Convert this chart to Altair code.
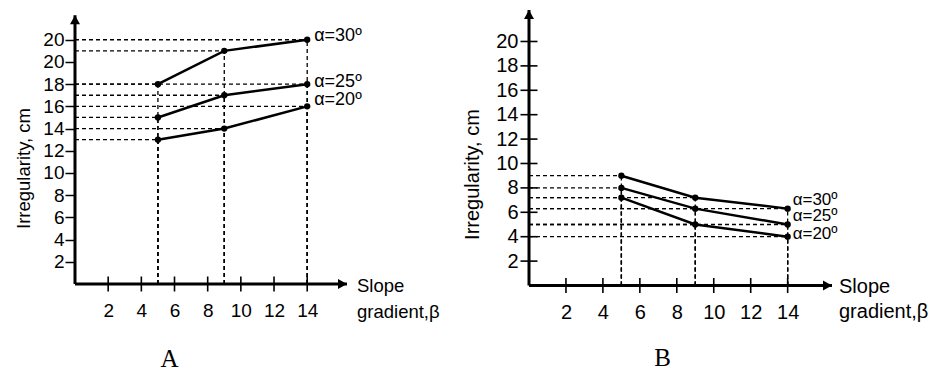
import altair as alt
import pandas as pd

# ---------------- data ----------------
slope_x = [5, 9, 14]
series_names = ["α=30º", "α=25º", "α=20º"]

# Panel A (irregularity grows with slope)
a_alpha30 = [18, 21, 22]
a_alpha25 = [15, 17, 18]
a_alpha20 = [13, 14, 16]

# Panel B (irregularity falls with slope)
b_alpha30 = [9, 7.2, 6.3]
b_alpha25 = [8, 6.3, 5]
b_alpha20 = [7.2, 5, 4]

x_tick_values = [2, 4, 6, 8, 10, 12, 14]
a_y_tick_values = [2, 4, 6, 8, 10, 12, 14, 16, 18, 20, 22]
b_y_tick_values = [2, 4, 6, 8, 10, 12, 14, 16, 18, 20]

x_axis_end = 16.4
a_y_axis_end = 24.2
b_y_axis_end = 22.58

FONT = "Liberation Sans"
SERIF = "Liberation Serif"
BLACK = "#000000"

UP_ARROW = "M0,0L-1,1.8L1,1.8Z"
RIGHT_ARROW = "M0,0L-1.8,-1L-1.8,1Z"

# per-series vertical nudge of the end labels (style only)
A_LABEL_DY = {"α=30º": -4, "α=25º": -2, "α=20º": -6}
B_LABEL_DY = {"α=30º": -9, "α=25º": -8, "α=20º": -3}


def points_frame(values):
    rows = []
    for name, ys in zip(series_names, values):
        for xv, yv in zip(slope_x, ys):
            rows.append({"x": xv, "y": yv, "series": name, "zero": 0})
    return pd.DataFrame(rows)


def panel(values, x_dom, y_dom, width, height, y_ticks, y_axis_end, letter,
          y_title_x, y_title_y, letter_x, letter_y, a_style):
    df = points_frame(values)
    xs = alt.Scale(domain=x_dom, nice=False, zero=False)
    ys = alt.Scale(domain=y_dom, nice=False, zero=False)

    tick_font = 19 if a_style else 20
    title_font = 18.5 if a_style else 20
    slope_font = 18.5 if a_style else 20
    alpha_font = 18 if a_style else 17

    common_y = dict(
        values=y_ticks, tickCount=40, format="d", domain=False, grid=False,
        labelOverlap=False, labelFontSize=tick_font,
        title="Irregularity, cm", titleX=y_title_x, titleY=y_title_y,
        titleBaseline="top", titleAlign="center", titleAngle=270,
        titleFontSize=title_font,
    )
    if a_style:
        y_axis = alt.Axis(
            tickSize=10, tickWidth=1.5, tickColor=BLACK, labelPadding=1,
            labelExpr="datum.value == 22 ? '20' : datum.label", **common_y,
        )
    else:
        y_axis = alt.Axis(tickSize=0, labelPadding=11, **common_y)
    x_axis = alt.Axis(
        values=x_tick_values, tickCount=40, format="d", domain=False, grid=False,
        tickSize=0, labelPadding=17, labelOverlap=False, labelFontSize=tick_font,
        title=letter, titleX=letter_x, titleY=letter_y, titleAlign="center",
        titleBaseline="alphabetic", titleFont=SERIF, titleFontSize=25,
        titleFontWeight="normal",
    )

    base = alt.Chart(df).mark_line(color=BLACK, strokeWidth=2.5).encode(
        x=alt.X("x:Q", scale=xs, axis=x_axis),
        y=alt.Y("y:Q", scale=ys, axis=y_axis),
        detail="series:N",
    )

    hdash = alt.Chart(df).mark_rule(color=BLACK, strokeWidth=1.3, strokeDash=[4, 3]).encode(
        x="zero:Q", x2="x:Q", y="y:Q"
    )
    vdash = alt.Chart(df).mark_rule(color=BLACK, strokeWidth=1.3, strokeDash=[4, 3]).encode(
        x="x:Q", y="zero:Q", y2="y:Q"
    )
    dots = alt.Chart(df).mark_circle(color=BLACK, size=40, opacity=1).encode(
        x="x:Q", y="y:Q"
    )

    axes_df = pd.DataFrame({"zero": [0], "xend": [x_axis_end], "yend": [y_axis_end]})
    x_line = alt.Chart(axes_df).mark_rule(color=BLACK, strokeWidth=3).encode(
        x="zero:Q", x2="xend:Q", y="zero:Q"
    )
    y_line = alt.Chart(axes_df).mark_rule(color=BLACK, strokeWidth=3).encode(
        x="zero:Q", y="zero:Q", y2="yend:Q"
    )
    x_arrow = alt.Chart(axes_df).mark_point(
        shape=RIGHT_ARROW, size=100, filled=True, color=BLACK, opacity=1
    ).encode(x="xend:Q", y="zero:Q")
    y_arrow = alt.Chart(axes_df).mark_point(
        shape=UP_ARROW, size=100, filled=True, color=BLACK, opacity=1
    ).encode(x="zero:Q", y="yend:Q")

    xt = pd.DataFrame({"v": x_tick_values, "zero": 0})
    x_ticks = alt.Chart(xt).mark_tick(
        orient="vertical", size=15, thickness=1.6, color=BLACK, opacity=1
    ).encode(x="v:Q", y="zero:Q")

    layers = [hdash, vdash, base, dots, x_line, y_line, x_arrow, y_arrow, x_ticks]

    if not a_style:
        yt = pd.DataFrame({"v": y_ticks, "zero": 0})
        y_tk = alt.Chart(yt).mark_tick(
            orient="horizontal", size=17, thickness=1.6, color=BLACK, opacity=1
        ).encode(x="zero:Q", y="v:Q")
        layers.append(y_tk)

    end_pts = df[df["x"] == slope_x[-1]]
    dys = A_LABEL_DY if a_style else B_LABEL_DY
    for name in series_names:
        lbl = alt.Chart(end_pts).transform_filter(
            alt.datum.series == name
        ).mark_text(
            align="left", baseline="middle", dx=7 if a_style else 5, dy=dys[name],
            font=FONT, fontSize=alpha_font, color=BLACK,
        ).encode(x="x:Q", y="y:Q", text="series:N")
        layers.append(lbl)

    slope_lbl = alt.Chart(axes_df).mark_text(
        align="left", baseline="alphabetic", dx=10 if a_style else 7,
        dy=8 if a_style else 7,
        lineBreak="\n", lineHeight=26 if a_style else 25,
        font=FONT, fontSize=slope_font, color=BLACK,
        text="Slope\ngradient,β",
    ).encode(x="xend:Q", y="zero:Q")
    layers.append(slope_lbl)

    return alt.layer(*layers).properties(width=width, height=height)


panel_a = panel(
    [a_alpha30, a_alpha25, a_alpha20], [0, 16.4], [0, 24.68], 272, 274,
    a_y_tick_values, a_y_axis_end, "A", -61, 158, 94, 82, True,
)
panel_b = panel(
    [b_alpha30, b_alpha25, b_alpha20], [0, 16.4], [0, 22.58], 303, 275.5,
    b_y_tick_values, b_y_axis_end, "B", -67, 164, 133, 80, False,
)

chart = (
    alt.hconcat(panel_a, panel_b, spacing=182, bounds="flush")
    .properties(padding={"left": 6, "top": 0, "right": 0, "bottom": 0})
    .configure_view(stroke=None)
    .configure_axis(
        labelFont=FONT, labelFontSize=18, labelColor=BLACK,
        titleFont=FONT, titleFontSize=18, titleColor=BLACK, titleFontWeight="normal",
    )
)

chart.save("out.html", embed_options={"renderer": "svg", "actions": False})
